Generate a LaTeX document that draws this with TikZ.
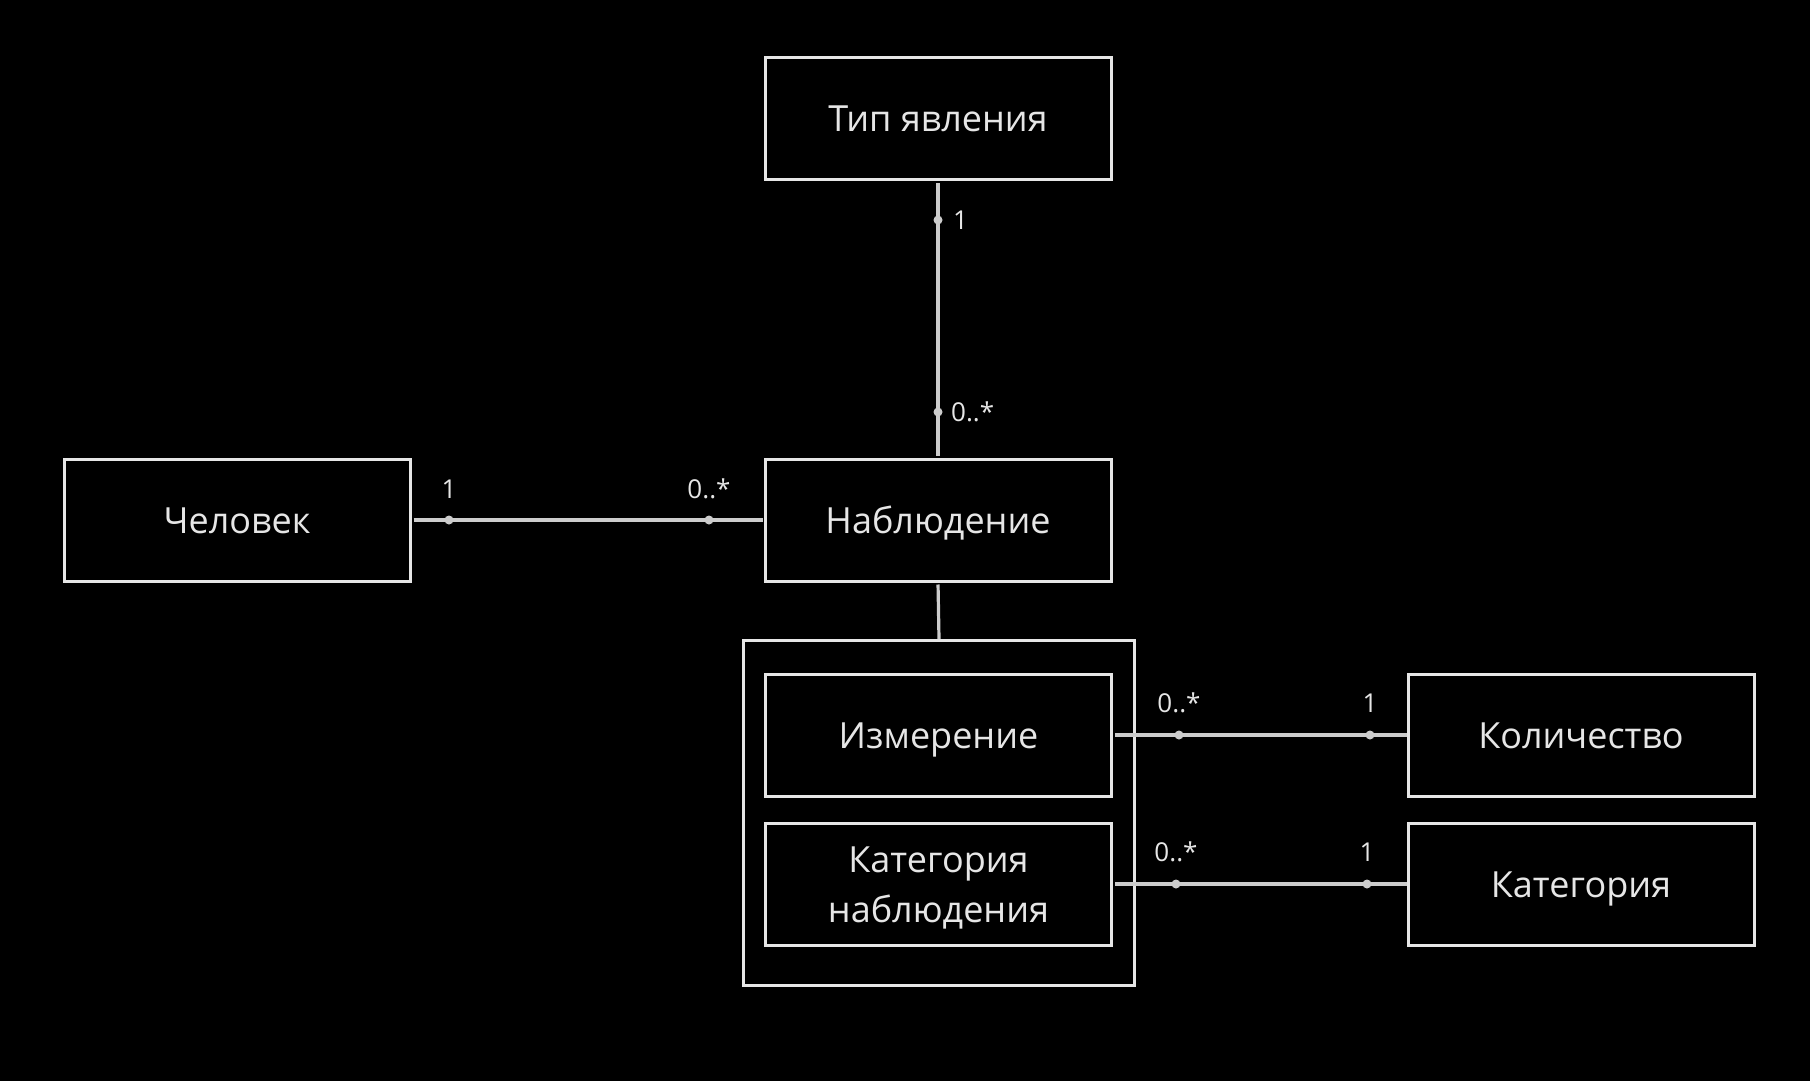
\documentclass[tikz,border=0pt]{standalone}
\usepackage{fontspec}
\setmainfont{Open Sans}
\definecolor{bord}{HTML}{E6E6E6}
\definecolor{conn}{HTML}{CCCCCC}
\definecolor{txt}{HTML}{E6E6E6}
\begin{document}
\begin{tikzpicture}[x=1pt,y=-1pt,
  box/.style={draw=bord, line width=3pt, fill=black, minimum width=346pt, minimum height=122pt, inner sep=0pt,
    label={[boxtext]center:#1}},
  box2/.style={draw=bord, line width=3pt, fill=black, minimum width=346pt, minimum height=122pt, inner sep=0pt,
    label={[boxtext2]center:#1}},
  boxtext/.style={text=txt, font=\fontsize{36}{50}\selectfont, inner sep=0pt, text height=30pt, text depth=4pt},
  boxtext2/.style={text=txt, align=center, font=\fontsize{36}{50}\selectfont, inner sep=0pt, yshift=-3.5pt},
  conline/.style={draw=conn, line width=3.2pt},
  mdot/.style={circle, fill=conn, inner sep=0pt, minimum size=9pt},
  mult/.style={text=txt, font=\fontsize{26}{30}\selectfont, inner sep=0pt}
]
\fill[black] (0,0) rectangle (1810,1081);
\useasboundingbox (0,0) rectangle (1810,1081);
% nodes
\node[box={Тип явления}] (tip) at (938,118.5) {};
\node[box={Наблюдение}] (nabl) at (938,520) {};
\node[box={Человек}] (chel) at (237,520) {};
\node[draw=bord, line width=3pt, minimum width=391pt, minimum height=345pt, inner sep=0pt] (cont) at (939,813) {};
\node[box={Измерение}] (izm) at (938.5,735) {};
\node[box2={Категория\\наблюдения}] (katn) at (938.5,884) {};
\node[box={Количество}] (kol) at (1581,735) {};
\node[box={Категория}] (kat) at (1581,884) {};
% connectors
\draw[conline, shorten <=2pt, shorten >=2pt] (tip.south) -- (nabl.north);
\draw[conline, shorten <=2pt, shorten >=1pt] (chel.east) -- (nabl.west);
\draw[conline, shorten <=2pt, shorten >=0pt] (nabl.south) -- (cont.north);
\draw[conline, shorten <=2pt] (izm.east) -- (kol.west);
\draw[conline, shorten <=2pt] (katn.east) -- (kat.west);
% multiplicity points
\node[mdot] (d1) at (938,220) {};
\node[mdot] (d2) at (938,412) {};
\node[mdot] (d3) at (449,520) {};
\node[mdot] (d4) at (709,520) {};
\node[mdot] (d5) at (1179,735) {};
\node[mdot] (d6) at (1370,735) {};
\node[mdot] (d7) at (1176,884) {};
\node[mdot] (d8) at (1367,884) {};
% labels
\node[mult, anchor=west] (l1) at (953,220) {1};
\node[mult, anchor=west] (l2) at (951,412) {0..*};
\node[mult] (l3) at (449,489) {1};
\node[mult] (l4) at (709,489) {0..*};
\node[mult] (l5) at (1179,703) {0..*};
\node[mult] (l6) at (1370,703) {1};
\node[mult] (l7) at (1176,852) {0..*};
\node[mult] (l8) at (1367,852) {1};
\end{tikzpicture}
\end{document}
